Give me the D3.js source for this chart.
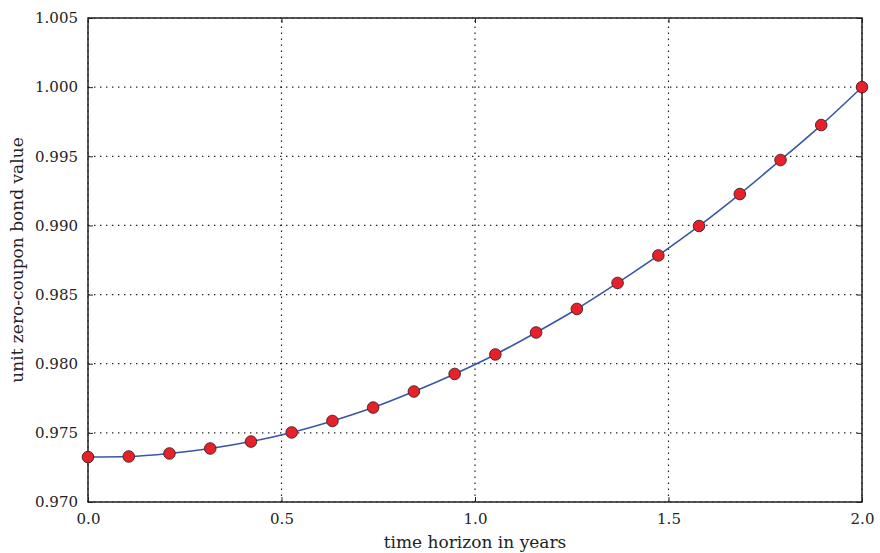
<!DOCTYPE html>
<html><head><meta charset="utf-8">
<script src="https://cdn.jsdelivr.net/npm/d3@7"></script>
<style>body{margin:0;background:#fff}svg{display:block}</style>
</head><body>
<script>
const timeYears = [0.0, 0.1053, 0.2105, 0.3158, 0.4211, 0.5263, 0.6316, 0.7368, 0.8421, 0.9474,
  1.0526, 1.1579, 1.2632, 1.3684, 1.4737, 1.5789, 1.6842, 1.7895, 1.8947, 2.0];
const bondValues = [0.97325, 0.97329, 0.97351, 0.97387, 0.97437, 0.97503, 0.97586, 0.97683, 0.97799, 0.97926,
  0.98067, 0.98226, 0.98396, 0.98584, 0.98783, 0.98996, 0.99227, 0.99473, 0.99726, 1.0];
const xTicks = [0.0, 0.5, 1.0, 1.5, 2.0];
const yTicks = [0.970, 0.975, 0.980, 0.985, 0.990, 0.995, 1.000, 1.005];
const xLabel = "time horizon in years";
const yLabel = "unit zero-coupon bond value";

const W = 880, H = 553;
const m = {left: 88, right: 18, top: 18, bottom: 51};
const svg = d3.select("body").append("svg").attr("width", W).attr("height", H);
const x = d3.scaleLinear().domain([0, 2]).range([m.left, W - m.right]);
const y = d3.scaleLinear().domain([0.970, 1.005]).range([H - m.bottom, m.top]);
const font = "DejaVu Serif";

// grid
const g = svg.append("g");
g.selectAll(".gx").data(xTicks).join("line")
  .attr("x1", d => x(d)).attr("x2", d => x(d)).attr("y1", y(0.970)).attr("y2", y(1.005))
  .attr("stroke", "#222").attr("stroke-width", 1.2).attr("stroke-dasharray", "1.4,4.6");
g.selectAll(".gy").data(yTicks).join("line")
  .attr("y1", d => y(d)).attr("y2", d => y(d)).attr("x1", x(0)).attr("x2", x(2))
  .attr("stroke", "#222").attr("stroke-width", 1.2).attr("stroke-dasharray", "1.4,4.6");

// axes (inward ticks on all sides)
const fmtX = d3.format(".1f"), fmtY = d3.format(".3f");
function styleAxis(sel) {
  sel.select(".domain").remove();
  sel.selectAll("text").attr("font-family", font).attr("font-size", 15).attr("fill", "#222");
  sel.selectAll(".tick line").attr("stroke", "#222");
}
svg.append("g").attr("transform", `translate(0,${y(0.970)})`)
  .call(d3.axisBottom(x).tickValues(xTicks).tickFormat(fmtX).tickSizeInner(-5).tickPadding(11)).call(styleAxis);
svg.append("g").attr("transform", `translate(0,${y(1.005)})`)
  .call(d3.axisTop(x).tickValues(xTicks).tickFormat("").tickSizeInner(-5)).call(styleAxis);
svg.append("g").attr("transform", `translate(${x(0)},0)`)
  .call(d3.axisLeft(y).tickValues(yTicks).tickFormat(fmtY).tickSizeInner(-5).tickPadding(10)).call(styleAxis);
svg.append("g").attr("transform", `translate(${x(2)},0)`)
  .call(d3.axisRight(y).tickValues(yTicks).tickFormat("").tickSizeInner(-5)).call(styleAxis);

// frame
svg.append("rect").attr("x", x(0)).attr("y", y(1.005)).attr("width", x(2) - x(0)).attr("height", y(0.970) - y(1.005))
  .attr("fill", "none").attr("stroke", "#222").attr("stroke-width", 1.5);

// line
const data = timeYears.map((t, i) => ({t, v: bondValues[i]}));
svg.append("path").datum(data)
  .attr("d", d3.line().x(d => x(d.t)).y(d => y(d.v)).curve(d3.curveMonotoneX))
  .attr("fill", "none").attr("stroke", "#3a56a8").attr("stroke-width", 1.6);

// markers
svg.selectAll(".pt").data(data).join("circle")
  .attr("cx", d => x(d.t)).attr("cy", d => y(d.v)).attr("r", 5.8)
  .attr("fill", "#e8202a").attr("stroke", "#3a2020").attr("stroke-width", 0.9);

// labels
svg.append("text").attr("x", (x(0) + x(2)) / 2).attr("y", 548).attr("text-anchor", "middle")
  .attr("font-family", font).attr("font-size", 17).attr("fill", "#222").text(xLabel);
svg.append("text").attr("transform", `translate(23,${(y(0.970) + y(1.005)) / 2}) rotate(-90)`)
  .attr("text-anchor", "middle").attr("font-family", font).attr("font-size", 17).attr("fill", "#222").text(yLabel);
</script>
</body></html>
